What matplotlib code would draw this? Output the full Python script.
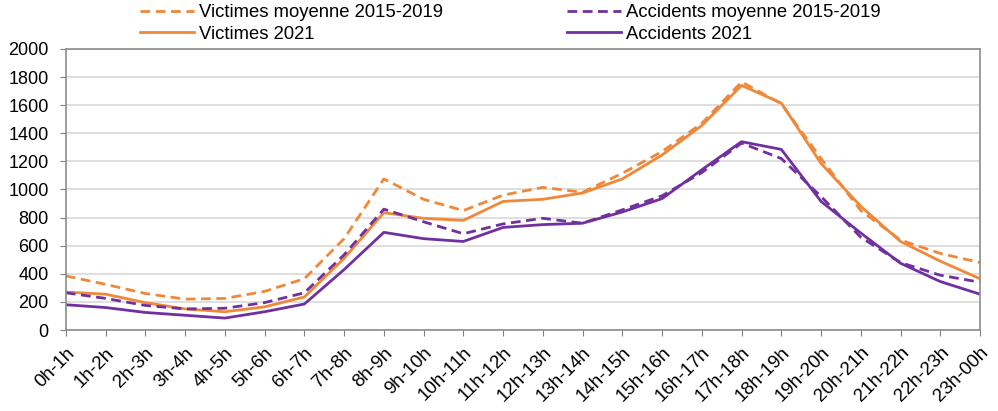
import numpy as np
import matplotlib.pyplot as plt

plt.rcParams['font.family'] = ['Liberation Sans', 'DejaVu Sans']

hours = ["0h-1h", "1h-2h", "2h-3h", "3h-4h", "4h-5h", "5h-6h", "6h-7h", "7h-8h",
         "8h-9h", "9h-10h", "10h-11h", "11h-12h", "12h-13h", "13h-14h", "14h-15h",
         "15h-16h", "16h-17h", "17h-18h", "18h-19h", "19h-20h", "20h-21h",
         "21h-22h", "22h-23h", "23h-00h"]

victimes_moy = [385, 325, 260, 220, 225, 275, 365, 650, 1075, 930, 850, 960,
                1015, 980, 1115, 1270, 1470, 1765, 1610, 1220, 850, 640, 545, 480]
victimes_2021 = [270, 255, 195, 150, 130, 165, 235, 510, 835, 795, 780, 915,
                 930, 975, 1075, 1245, 1455, 1740, 1615, 1185, 880, 630, 490, 365]
accidents_moy = [265, 225, 175, 150, 155, 195, 265, 535, 860, 770, 685, 755,
                 795, 760, 855, 955, 1120, 1330, 1220, 950, 660, 480, 390, 340]
accidents_2021 = [180, 160, 125, 105, 85, 130, 185, 430, 695, 650, 630, 730,
                  750, 760, 840, 935, 1140, 1340, 1285, 915, 690, 475, 345, 255]

orange = '#F0883A'
purple = '#7030A0'

fig = plt.figure(figsize=(9.98, 4.11), dpi=100)
ax = fig.add_axes([0.066, 0.197, 0.916, 0.684])

x = np.arange(len(hours))
lw = 2.0
ax.plot(x, victimes_moy, color=orange, lw=lw, ls=(0, (3.5, 2)), label="Victimes moyenne 2015-2019")
ax.plot(x, victimes_2021, color=orange, lw=lw, label="Victimes 2021")
ax.plot(x, accidents_moy, color=purple, lw=lw, ls=(0, (3.5, 2)), label="Accidents moyenne 2015-2019")
ax.plot(x, accidents_2021, color=purple, lw=lw, label="Accidents 2021")

ax.set_xlim(0, 23)
ax.set_ylim(0, 2000)
ax.set_yticks(range(0, 2001, 200))
ax.set_xticks(x)
ax.set_xticklabels(hours, rotation=45, ha='right', rotation_mode='anchor', fontsize=13.5)
ax.tick_params(axis='y', labelsize=13, length=4.3, pad=8, color='#808080')
ax.tick_params(axis='x', length=4.3, pad=6, color='#808080')
ax.grid(axis='y', color='#D9D9D9', lw=1.2)
ax.set_axisbelow(True)
for s in ax.spines.values():
    s.set_color('#8C8C8C')
    s.set_linewidth(1.2)

fig.legend(loc='upper left', bbox_to_anchor=(0.124, 1.03), ncol=2, frameon=False,
           fontsize=13.3, handlelength=2.9, columnspacing=6.7, labelspacing=0.25,
           handletextpad=0.3)

fig.savefig("out.png", dpi=100)
